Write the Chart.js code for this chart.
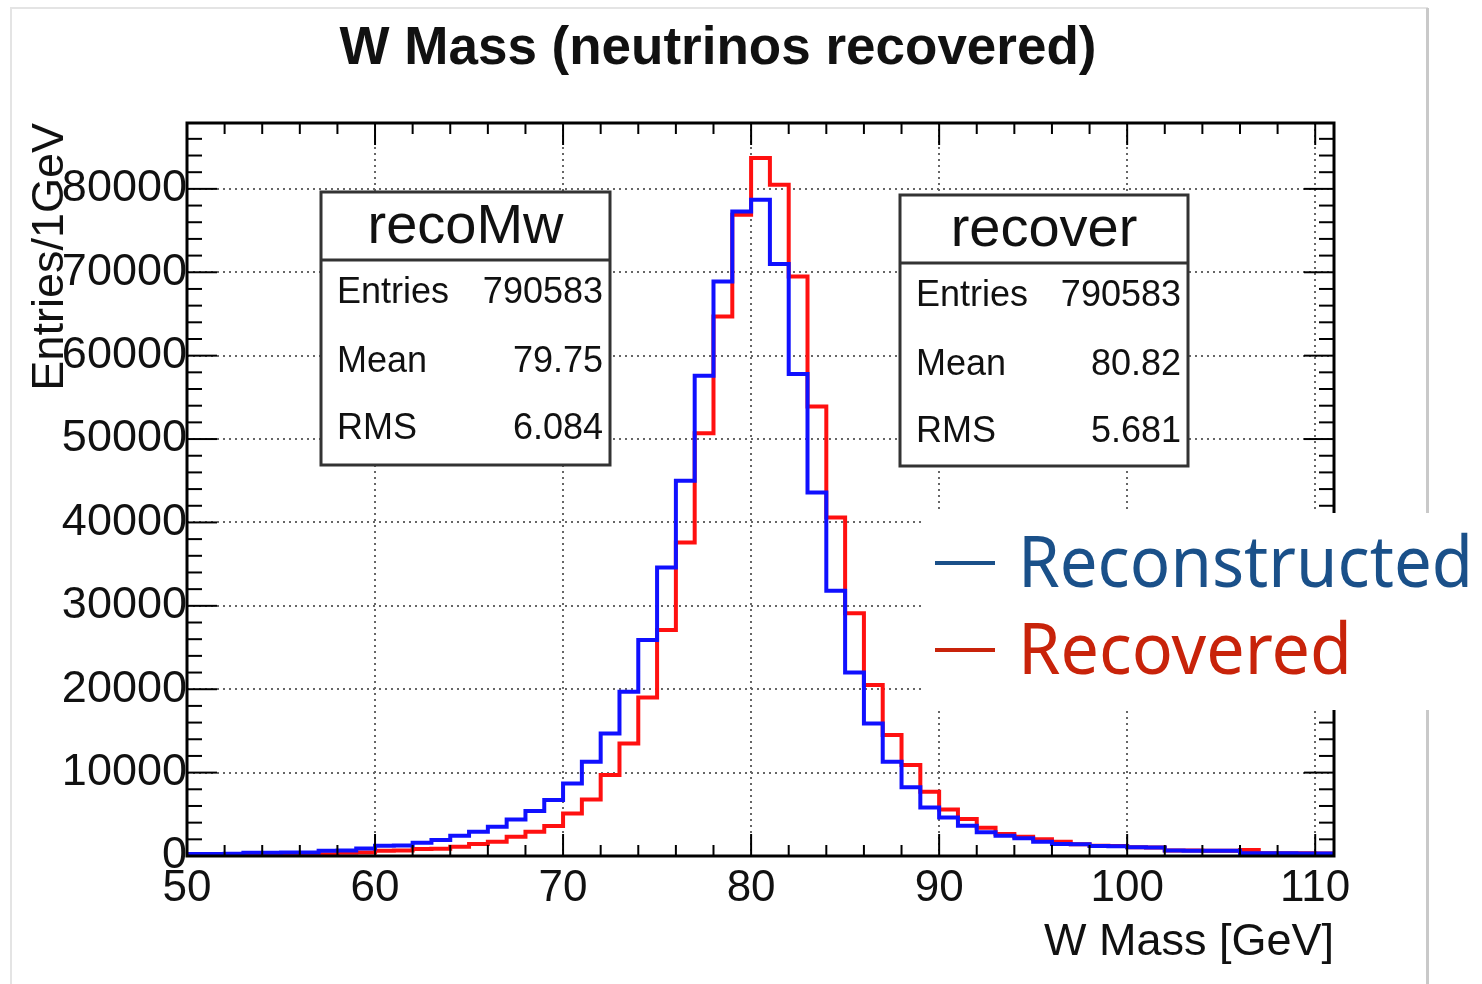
<!DOCTYPE html>
<html>
<head>
<meta charset="utf-8">
<title>W Mass (neutrinos recovered)</title>
<script src="https://cdn.jsdelivr.net/npm/chart.js@4.4.1/dist/chart.umd.min.js"></script>
<style>
  html, body { margin: 0; padding: 0; background: #fff; }
  #wrap { position: relative; width: 1482px; height: 984px; }
</style>
</head>
<body>
<div id="wrap"><canvas id="wMassChart"></canvas></div>
<script>
// lower bin edges, 1 GeV bins
const binLow = [
  50, 51, 52, 53, 54, 55, 56, 57, 58, 59,
  60, 61, 62, 63, 64, 65, 66, 67, 68, 69,
  70, 71, 72, 73, 74, 75, 76, 77, 78, 79,
  80, 81, 82, 83, 84, 85, 86, 87, 88, 89,
  90, 91, 92, 93, 94, 95, 96, 97, 98, 99,
  100, 101, 102, 103, 104, 105, 106, 107, 108, 109, 110
];

// entries per bin, reconstructed (blue)
const recoMw = [
  240, 250, 260, 380, 400, 410, 420, 620, 650, 910,
  1220, 1260, 1600, 1920, 2430, 2910, 3510, 4390, 5390, 6710,
  8700, 11300, 14700, 19700, 25900, 34600, 45000, 57600, 68900, 77300,
  78700, 71000, 57800, 43600, 31800, 22000, 15900, 11300, 8230, 5830,
  4630, 3630, 2840, 2430, 2120, 1720, 1440, 1400, 1200, 1180,
  1040, 1020, 660, 640, 630, 620, 340, 330, 320, 310, 300
];

// entries per bin, recovered (red)
const recover = [
  100, 100, 110, 200, 200, 210, 210, 220, 400, 420,
  640, 660, 850, 870, 1120, 1440, 1720, 2320, 2910, 3590,
  5110, 6790, 9700, 13500, 19000, 27100, 37600, 50700, 64700, 76900,
  83700, 80500, 69500, 53900, 40600, 29100, 20500, 14500, 10900, 7700,
  5590, 4430, 3390, 2630, 2310, 2000, 1720, 1420, 1220, 1190,
  1050, 1030, 670, 650, 640, 630, 720, 340, 330, 320, 310
];

const xTickVals = [50, 60, 70, 80, 90, 100, 110];
const yTickVals = [0, 10000, 20000, 30000, 40000, 50000, 60000, 70000, 80000];

const statLabels = ["Entries", "Mean", "RMS"];
const recoMwStats = ["790583", "79.75", "6.084"];
const recoverStats = ["790583", "80.82", "5.681"];
const seriesNames = ["Reconstructed", "Recovered"];

const HELV = "'Liberation Sans', Arial, Helvetica, sans-serif";

function histPoints(vals) {
  const pts = binLow.map((x, i) => ({ x: x, y: vals[i] }));
  // close the last bin at its upper edge
  pts.push({ x: binLow[binLow.length - 1] + 1, y: vals[vals.length - 1] });
  return pts;
}

function line(ctx, x1, y1, x2, y2) {
  ctx.beginPath();
  ctx.moveTo(x1, y1);
  ctx.lineTo(x2, y2);
  ctx.stroke();
}

function drawStatsBox(ctx, x, y, w, h, name, values) {
  ctx.save();
  ctx.fillStyle = "#fff";
  ctx.fillRect(x, y, w, h);
  ctx.strokeStyle = "#333";
  ctx.lineWidth = 3;
  ctx.strokeRect(x, y, w, h);
  line(ctx, x, y + 68, x + w, y + 68);

  ctx.fillStyle = "#111";
  ctx.textBaseline = "middle";
  ctx.textAlign = "center";
  ctx.font = "56px " + HELV;
  ctx.fillText(name, x + w / 2, y + 36);

  ctx.font = "36px " + HELV;
  const rowY = [101, 170, 237];
  statLabels.forEach((lab, i) => {
    ctx.textAlign = "left";
    ctx.fillText(lab, x + 16, y + rowY[i]);
    ctx.textAlign = "right";
    ctx.fillText(values[i], x + w - 7, y + rowY[i]);
  });
  ctx.restore();
}

const rootStyle = {
  id: "rootStyle",
  beforeDraw(chart) {
    const { ctx, width, height } = chart;
    ctx.save();
    ctx.fillStyle = "#fff";
    ctx.fillRect(0, 0, width, height);
    // edge of the pasted ROOT canvas
    ctx.strokeStyle = "#e4e4e4";
    ctx.lineWidth = 2;
    ctx.strokeRect(11, 8, 1416, height + 10);
    ctx.fillStyle = "#c9c9c9";
    ctx.fillRect(1426, 8, 3, height);
    ctx.restore();
  },
  afterDatasetsDraw(chart) {
    const { ctx, chartArea } = chart;
    const { left, right, top, bottom } = chartArea;
    const xs = chart.scales.x, ys = chart.scales.y;
    ctx.save();
    ctx.strokeStyle = "#000";
    ctx.lineWidth = 2;
    // x ticks every 2 GeV, long at labelled values
    for (let v = xTickVals[0]; v <= xTickVals[xTickVals.length - 1]; v += 2) {
      const px = xs.getPixelForValue(v);
      const len = xTickVals.includes(v) ? 22 : 11;
      line(ctx, px, bottom, px, bottom - len);
      line(ctx, px, top, px, top + len);
    }
    // y ticks every 2000
    for (let v = 0; v <= ys.max; v += 2000) {
      const py = ys.getPixelForValue(v);
      const len = yTickVals.includes(v) ? 30 : 15;
      line(ctx, left, py, left + len, py);
      line(ctx, right, py, right - len, py);
    }
    ctx.lineWidth = 3;
    ctx.strokeRect(left, top, right - left, bottom - top);
    ctx.restore();

    drawStatsBox(ctx, 321, 192, 289, 273, "recoMw", recoMwStats);
    drawStatsBox(ctx, 900, 195, 288, 271, "recover", recoverStats);
  },
  afterDraw(chart) {
    const { ctx } = chart;
    ctx.save();
    // title
    ctx.fillStyle = "#111";
    ctx.font = "bold 53px " + HELV;
    ctx.textAlign = "center";
    ctx.textBaseline = "middle";
    ctx.fillText("W Mass (neutrinos recovered)", 718, 49);

    // slide legend pasted over the plot
    ctx.fillStyle = "#fff";
    ctx.fillRect(925, 513, 557, 197);
    const legColors = ["#1a5089", "#c8230a"];
    const legY = [563, 650];
    const legMax = [455, 334];
    ctx.lineWidth = 4;
    ctx.font = "72px 'Noto Sans', 'Open Sans', sans-serif";
    ctx.textAlign = "left";
    ctx.textBaseline = "alphabetic";
    seriesNames.forEach((name, i) => {
      ctx.strokeStyle = legColors[i];
      ctx.fillStyle = legColors[i];
      line(ctx, 935, legY[i], 995, legY[i]);
      ctx.fillText(name, 1018, legY[i] + 24, legMax[i]);
    });
    ctx.restore();
  }
};

new Chart(document.getElementById("wMassChart").getContext("2d"), {
  type: "line",
  data: {
    datasets: [
      {
        label: seriesNames[0],
        data: histPoints(recoMw),
        borderColor: "#1010ff",
        borderWidth: 4,
        stepped: true,
        pointRadius: 0,
        fill: false
      },
      {
        label: seriesNames[1],
        data: histPoints(recover),
        borderColor: "#ff1010",
        borderWidth: 4,
        stepped: true,
        pointRadius: 0,
        fill: false
      }
    ]
  },
  options: {
    responsive: true,
    maintainAspectRatio: false,
    animation: false,
    layout: { padding: { top: 123, right: 148, left: 0, bottom: 0 } },
    plugins: {
      legend: { display: false },
      title: { display: false },
      tooltip: { enabled: false }
    },
    scales: {
      x: {
        type: "linear",
        min: 50,
        max: 111,
        afterBuildTicks: s => { s.ticks = xTickVals.map(v => ({ value: v })); },
        afterFit: s => { s.height = 128; },
        ticks: {
          autoSkip: false,
          maxRotation: 0,
          padding: 6,
          color: "#111",
          font: { family: HELV, size: 44 },
          callback: v => String(v)
        },
        grid: { color: "#666", lineWidth: 2, drawTicks: false },
        border: { display: false, dash: [2, 4] },
        title: {
          display: true,
          text: "W Mass [GeV]",
          align: "end",
          color: "#111",
          font: { family: HELV, size: 45 },
          padding: { top: 0, bottom: 14 }
        }
      },
      y: {
        min: 0,
        max: 87900,
        afterBuildTicks: s => { s.ticks = yTickVals.map(v => ({ value: v })); },
        afterFit: s => { s.width = 187; },
        ticks: {
          padding: 0,
          color: "#111",
          font: { family: HELV, size: 45 },
          callback: v => String(v)
        },
        grid: { color: "#666", lineWidth: 2, drawTicks: false },
        border: { display: false, dash: [2, 4] },
        title: {
          display: true,
          text: "Entries/1GeV",
          align: "end",
          color: "#111",
          font: { family: HELV, size: 45 },
          padding: { top: 24, bottom: 0 }
        }
      }
    }
  },
  plugins: [rootStyle]
});
</script>
</body>
</html>
